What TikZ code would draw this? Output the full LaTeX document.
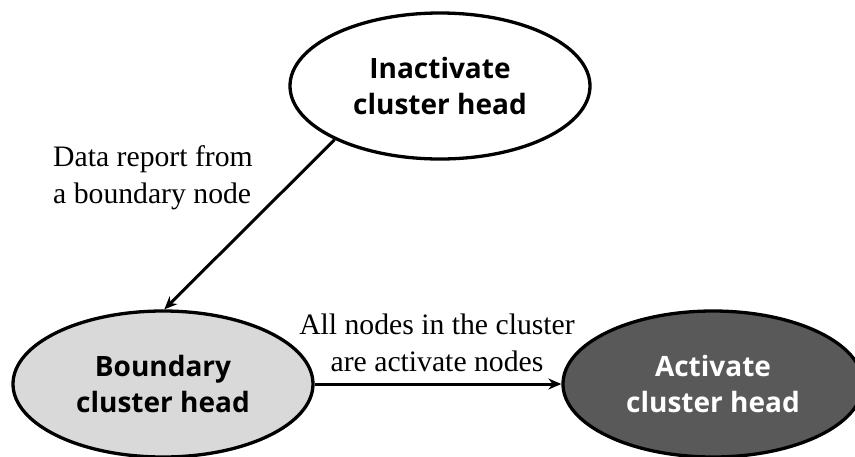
\documentclass[tikz,border=0pt]{standalone}
\usepackage{fontspec}
\setmainfont{Liberation Serif}
\newfontfamily\labelsans{Open Sans}
\usetikzlibrary{shapes.geometric,arrows.meta}
\definecolor{lightfill}{HTML}{D9D9D9}
\definecolor{darkfill}{HTML}{595959}
\tikzset{
  state/.style={ellipse, draw=black, line width=3.3pt, minimum width=300pt, minimum height=146pt,
    inner sep=0pt, align=center, font=\labelsans\bfseries\fontsize{28}{36}\selectfont},
  conn/.style={line width=3pt, -{Stealth[length=13pt,width=11pt]}},
  note/.style={align=center, font=\fontsize{29.7}{37}\selectfont, inner sep=0pt}
}
\begin{document}
\begin{tikzpicture}[x=1pt,y=-1pt]
\useasboundingbox (0,0) rectangle (855,456);
\begin{scope}
\clip (0,0) rectangle (855,456);
\node[state, fill=white] (top) at (440,86) {Inactivate\\cluster head};
\node[state, fill=lightfill] (bl) at (163,384) {Boundary\\cluster head};
\node[state, fill=darkfill, text=white] (br) at (713,384) {Activate\\cluster head};
\end{scope}
\draw[conn] (top.207) -- (bl.89);
\draw[conn] (bl.east) -- (br.west);
\node[note, align=left, anchor=west] (l1) at (53,178) {Data report from\\a boundary node};
\node[note] (l2) at (437,343) {All nodes in the cluster\\are activate nodes};
\end{tikzpicture}
\end{document}
